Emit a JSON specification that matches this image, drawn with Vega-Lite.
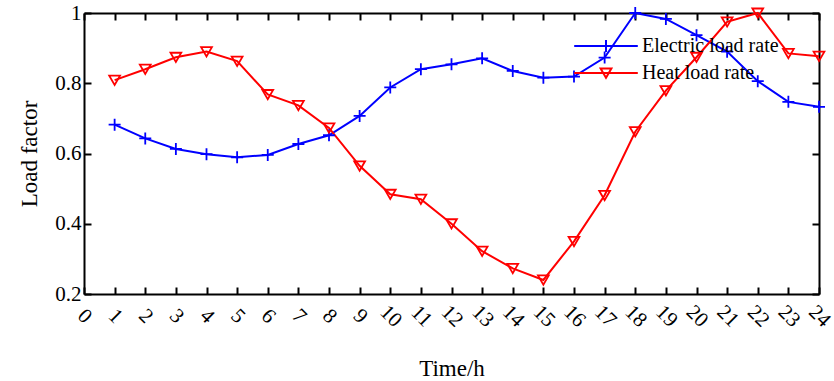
{
  "$schema": "https://vega.github.io/schema/vega-lite/v6.json",
  "autosize": "none",
  "width": 735,
  "height": 281,
  "padding": {"left": 84, "top": 13, "right": 15, "bottom": 87},
  "background": "white",
  "config": {
    "view": {"stroke": null},
    "font": "Liberation Serif",
    "axis": {"grid": false, "domainColor": "black", "domainWidth": 2, "tickColor": "black", "tickWidth": 2, "labelFont": "Liberation Serif", "titleFont": "Liberation Serif", "labelColor": "black", "titleColor": "black", "titleFontWeight": "normal", "labelFontSize": 21, "titleFontSize": 23, "tickSize": -7, "labelOverlap": false, "labelFlush": false}
  },
  "data": {"values": [
    {"t": 1, "s": "Electric load rate", "v": 0.682}, {"t": 2, "s": "Electric load rate", "v": 0.643}, {"t": 3, "s": "Electric load rate", "v": 0.613},
    {"t": 4, "s": "Electric load rate", "v": 0.598}, {"t": 5, "s": "Electric load rate", "v": 0.589}, {"t": 6, "s": "Electric load rate", "v": 0.596},
    {"t": 7, "s": "Electric load rate", "v": 0.627}, {"t": 8, "s": "Electric load rate", "v": 0.652}, {"t": 9, "s": "Electric load rate", "v": 0.707},
    {"t": 10, "s": "Electric load rate", "v": 0.788}, {"t": 11, "s": "Electric load rate", "v": 0.84}, {"t": 12, "s": "Electric load rate", "v": 0.854},
    {"t": 13, "s": "Electric load rate", "v": 0.871}, {"t": 14, "s": "Electric load rate", "v": 0.835}, {"t": 15, "s": "Electric load rate", "v": 0.816},
    {"t": 16, "s": "Electric load rate", "v": 0.819}, {"t": 17, "s": "Electric load rate", "v": 0.873}, {"t": 18, "s": "Electric load rate", "v": 1.0},
    {"t": 19, "s": "Electric load rate", "v": 0.983}, {"t": 20, "s": "Electric load rate", "v": 0.937}, {"t": 21, "s": "Electric load rate", "v": 0.89},
    {"t": 22, "s": "Electric load rate", "v": 0.806}, {"t": 23, "s": "Electric load rate", "v": 0.747}, {"t": 24, "s": "Electric load rate", "v": 0.733},
    {"t": 1, "s": "Heat load rate", "v": 0.809}, {"t": 2, "s": "Heat load rate", "v": 0.84}, {"t": 3, "s": "Heat load rate", "v": 0.874},
    {"t": 4, "s": "Heat load rate", "v": 0.89}, {"t": 5, "s": "Heat load rate", "v": 0.863}, {"t": 6, "s": "Heat load rate", "v": 0.768},
    {"t": 7, "s": "Heat load rate", "v": 0.737}, {"t": 8, "s": "Heat load rate", "v": 0.673}, {"t": 9, "s": "Heat load rate", "v": 0.565},
    {"t": 10, "s": "Heat load rate", "v": 0.484}, {"t": 11, "s": "Heat load rate", "v": 0.47}, {"t": 12, "s": "Heat load rate", "v": 0.40},
    {"t": 13, "s": "Heat load rate", "v": 0.322}, {"t": 14, "s": "Heat load rate", "v": 0.273}, {"t": 15, "s": "Heat load rate", "v": 0.24},
    {"t": 16, "s": "Heat load rate", "v": 0.35}, {"t": 17, "s": "Heat load rate", "v": 0.481}, {"t": 18, "s": "Heat load rate", "v": 0.662},
    {"t": 19, "s": "Heat load rate", "v": 0.779}, {"t": 20, "s": "Heat load rate", "v": 0.874}, {"t": 21, "s": "Heat load rate", "v": 0.975},
    {"t": 22, "s": "Heat load rate", "v": 1.0}, {"t": 23, "s": "Heat load rate", "v": 0.885}, {"t": 24, "s": "Heat load rate", "v": 0.877}
  ]},
  "layer": [
    {
      "encoding": {
        "x": {"field": "t", "type": "quantitative", "scale": {"domain": [0, 24], "nice": false}, "axis": {"title": "Time/h", "orient": "bottom", "values": [0,1,2,3,4,5,6,7,8,9,10,11,12,13,14,15,16,17,18,19,20,21,22,23,24], "labelAngle": 45, "labelAlign": "center", "labelBaseline": "middle", "labelPadding": 29, "titlePadding": 27}},
        "y": {"field": "v", "type": "quantitative", "scale": {"domain": [0.2, 1], "nice": false}, "axis": {"title": "Load factor", "orient": "left", "values": [0.2, 0.4, 0.6, 0.8, 1], "labelExpr": "datum.value == 1 ? '1' : format(datum.value, '.1f')", "labelPadding": 10, "titlePadding": 13}},
        "color": {"field": "s", "type": "nominal", "scale": {"domain": ["Electric load rate", "Heat load rate"], "range": ["#0000ff", "#ff0000"]},
          "legend": {"title": null, "orient": "none", "legendX": 512, "legendY": 23, "labelFontSize": 20, "labelFont": "Liberation Serif", "labelColor": "black", "labelOffset": 26, "rowPadding": 7, "symbolSize": 144, "symbolStrokeWidth": 2, "symbolFillColor": "transparent", "symbolType": "M-5.3,0L5.3,0M0,-1L0,1",
            "encode": {"symbols": {"update": {"shape": {"signal": "datum.value === 'Electric load rate' ? 'M-5.3,0L5.3,0M0,-1L0,1' : 'M-5.3,0L5.3,0M-0.9,-0.75L0.9,-0.75L0,0.8Z'"}, "fill": {"value": "transparent"}}}}}}
      },
      "layer": [
        {
          "mark": {"type": "line", "strokeWidth": 2, "clip": false}
        },
        {
          "transform": [{"filter": "datum.s === 'Electric load rate'"}],
          "mark": {"type": "point", "shape": "M-1,0L1,0M0,-1L0,1", "filled": false, "strokeWidth": 1.8, "opacity": 1, "size": 144, "clip": false}
        },
        {
          "transform": [{"filter": "datum.s === 'Heat load rate'"}],
          "mark": {"type": "point", "shape": "M-0.9,-0.75L0.9,-0.75L0,0.8Z", "filled": false, "strokeWidth": 1.8, "opacity": 1, "size": 144, "clip": false}
        }
      ]
    },
    {
      "mark": {"type": "rule", "opacity": 0},
      "encoding": {
        "x": {"field": "t", "type": "quantitative", "scale": {"domain": [0, 24], "nice": false}, "axis": {"title": null, "orient": "top", "values": [0,1,2,3,4,5,6,7,8,9,10,11,12,13,14,15,16,17,18,19,20,21,22,23,24], "labels": false}},
        "y": {"field": "v", "type": "quantitative", "scale": {"domain": [0.2, 1], "nice": false}, "axis": {"title": null, "orient": "right", "values": [0.2, 0.4, 0.6, 0.8, 1], "labels": false}}
      }
    }
  ],
  "resolve": {"axis": {"x": "independent", "y": "independent"}}
}
